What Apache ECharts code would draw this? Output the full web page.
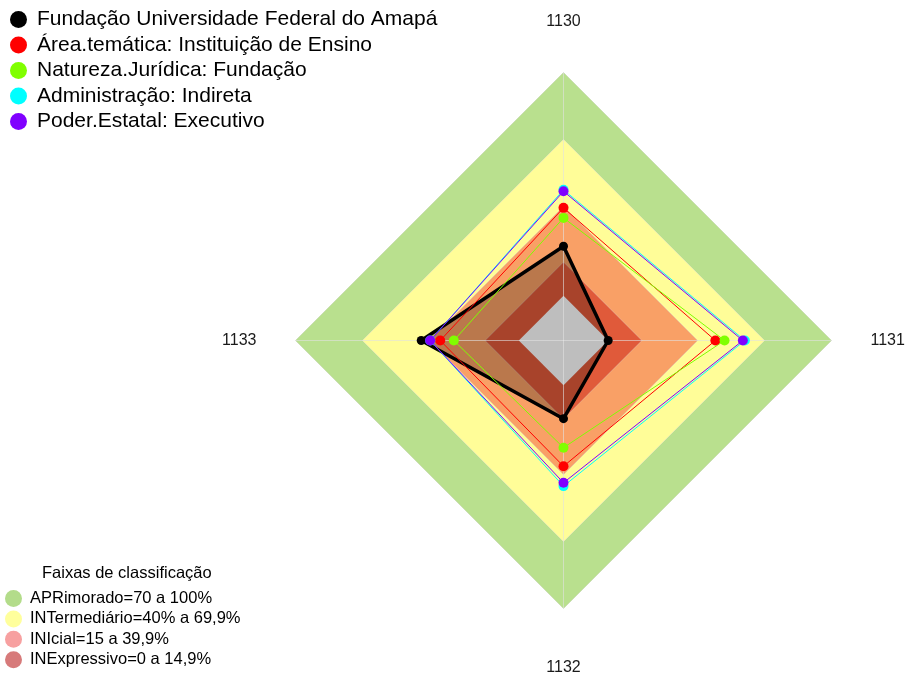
<!DOCTYPE html>
<html>
<head>
<meta charset="utf-8">
<script src="https://cdn.jsdelivr.net/npm/echarts@6/dist/echarts.min.js"></script>
<style>
html,body{margin:0;padding:0;background:#fff;}
#chart{width:905px;height:675px;}
</style>
</head>
<body>
<div id="chart"></div>
<script>
// ---- data ----
const categories = ['1130', '1131', '1132', '1133'];
const seriesNames = [
  'Fundação Universidade Federal do Amapá',
  'Área.temática: Instituição de Ensino',
  'Natureza.Jurídica: Fundação',
  'Administração: Indireta',
  'Poder.Estatal: Executivo'
];
const ufap     = [22.2, 0.0, 15.0, 43.7];
const tematica = [39.4, 48.0, 36.3, 35.2];
const natureza = [34.9, 52.1, 28.0, 29.1];
const admin    = [47.5, 61.2, 45.2, 39.7];
const poder    = [46.8, 60.3, 43.7, 39.7];
const seriesValues = [ufap, tematica, natureza, admin, poder];
const seriesColors = ['#000000', '#ff0000', '#80ff00', '#00ffff', '#8000ff'];

const bandTitle = 'Faixas de classificação';
const bandNames = ['APRimorado=70 a 100%', 'INTermediário=40% a 69,9%', 'INIcial=15 a 39,9%', 'INExpressivo=0 a 14,9%'];
const bandUpper = [100, 70, 40, 15];
const bandFill = ['#b9e08e', '#fffd98', '#f9a066', '#e05a3a'];
const bandLegendColors = ['#b3dc8a', '#ffff9c', '#f7a0a0', '#d77a7a'];
const innerValue = 0;
const axisMin = -20, axisMax = 100;

// ECharts places indicators counter-clockwise from the top; the reference goes clockwise
const order = [0, 3, 2, 1];
const reorder = arr => order.map(i => arr[i]);

const chart = echarts.init(document.getElementById('chart'));
const series = [];

bandUpper.forEach((u, i) => {
  series.push({
    type: 'radar', name: bandNames[i], z: 1, silent: true,
    symbol: 'none',
    lineStyle: { color: 'rgba(215,215,215,0.8)', width: 1 },
    areaStyle: { color: bandFill[i], opacity: 1 },
    itemStyle: { color: bandLegendColors[i] },
    data: [{ value: categories.map(() => u), name: bandNames[i] }]
  });
});
// translucent fill of the main polygon
series.push({
  type: 'radar', name: seriesNames[0] + ' fill', z: 1, silent: true,
  symbol: 'none',
  lineStyle: { width: 0, opacity: 0 },
  areaStyle: { color: 'rgba(0,0,0,0.25)', opacity: 1 },
  data: [{ value: reorder(ufap) }]
});
// grey centre
series.push({
  type: 'radar', name: 'centre', z: 1, silent: true,
  symbol: 'none',
  lineStyle: { width: 0, opacity: 0 },
  areaStyle: { color: '#bebebe', opacity: 1 },
  data: [{ value: categories.map(() => innerValue) }]
});
seriesValues.forEach((vals, i) => {
  series.push({
    type: 'radar', name: seriesNames[i], z: 3,
    symbol: 'circle',
    symbolSize: i === 0 ? 9 : 10,
    lineStyle: { color: seriesColors[i], width: i === 0 ? 3.5 : 1 },
    itemStyle: { color: seriesColors[i] },
    data: [{ value: reorder(vals), name: seriesNames[i] }]
  });
});

const FONT = 'Liberation Sans, Arial, sans-serif';
const option = {
  animation: false,
  backgroundColor: '#ffffff',
  textStyle: { fontFamily: FONT },
  radar: {
    z: 2,
    center: [563.5, 340.5],
    radius: 268,
    startAngle: 90,
    shape: 'polygon',
    nameGap: 39,
    axisName: {
      color: '#1a1a1a', fontSize: 16, fontFamily: FONT,
      formatter: (name) => {
        if (name === categories[0]) return '{t|' + name + '}';
        if (name === categories[2]) return '{b|' + name + '}';
        return '{s|' + name + '}';
      },
      rich: {
        t: { fontSize: 16, fontFamily: FONT, color: '#1a1a1a', padding: [0, 0, 4, 0] },
        b: { fontSize: 16, fontFamily: FONT, color: '#1a1a1a', padding: [12, 0, 0, 0] },
        s: { fontSize: 16, fontFamily: FONT, color: '#1a1a1a' }
      }
    },
    indicator: reorder(categories).map(c => ({ name: c, min: axisMin, max: axisMax })),
    axisLine: { show: true, lineStyle: { color: 'rgba(225,225,225,0.6)', width: 1 } },
    splitLine: { show: false },
    splitArea: { show: false },
    axisTick: { show: false },
    axisLabel: { show: false }
  },
  legend: [
    {
      data: seriesNames,
      orient: 'vertical', left: 5, top: 4,
      icon: 'circle', itemWidth: 17, itemHeight: 17, itemGap: 4.5,
      selectedMode: false,
      textStyle: { fontSize: 21, color: '#000', padding: [0, 0, 0, 5], fontFamily: FONT }
    },
    {
      data: bandNames.map((n, i) => ({ name: n, itemStyle: { color: bandLegendColors[i] } })),
      orient: 'vertical', left: 0, top: 585,
      icon: 'circle', itemWidth: 17, itemHeight: 17, itemGap: 3.4,
      selectedMode: false,
      textStyle: { fontSize: 16.5, color: '#000', padding: [0, 0, 0, 3], fontFamily: FONT }
    }
  ],
  title: {
    text: bandTitle, left: 37, top: 560,
    textStyle: { fontSize: 16.5, fontWeight: 'normal', color: '#000', fontFamily: FONT }
  },
  series: series
};
chart.setOption(option);
</script>
</body>
</html>
